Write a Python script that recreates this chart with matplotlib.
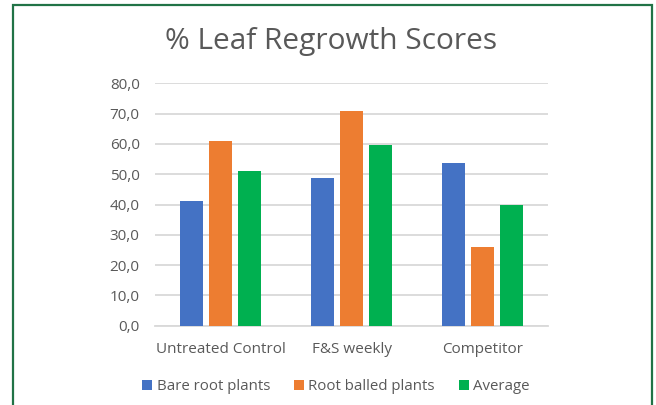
import matplotlib.pyplot as plt
import numpy as np
from matplotlib.patches import Rectangle

plt.rcParams['font.family'] = ['Open Sans', 'DejaVu Sans']

# datos del gráfico
categorias = ["Untreated Control", "F&S weekly", "Competitor"]
series = ["Bare root plants", "Root balled plants", "Average"]
bare_root = [41.0, 48.6, 53.6]
root_balled = [61.0, 70.9, 26.1]
average = [51.2, 59.6, 39.9]
colores = ["#4472C4", "#ED7D31", "#00B050"]
gris = "#595959"

fig = plt.figure(figsize=(6.56, 4.05), dpi=100)
ax = fig.add_axes([155 / 656, 1 - 325.7 / 405, 393 / 656, 242.4 / 405])

x = np.arange(len(categorias))
ancho = 0.176
paso = 0.221
for i, (nombre, valores) in enumerate(zip(series, [bare_root, root_balled, average])):
    ax.bar(x + (i - 1) * paso, valores, ancho, color=colores[i], label=nombre, zorder=3)

ax.set_xlim(-0.5, 2.5)
ax.set_ylim(0, 80)
ax.set_yticks(range(0, 81, 10))
ax.set_yticklabels([f"{v},0" for v in range(0, 81, 10)])
ax.set_xticks(x)
ax.set_xticklabels(categorias)
ax.tick_params(axis='both', length=0, colors=gris, labelsize=11)
ax.tick_params(axis='y', pad=11)
ax.tick_params(axis='x', pad=12)
ax.grid(axis='y', color="#d9d9d9", linewidth=1.3, zorder=0)
for lado in ["top", "right", "left"]:
    ax.spines[lado].set_visible(False)
ax.spines["bottom"].set_color("#d9d9d9")
ax.spines["bottom"].set_linewidth(1.3)

fig.text(331 / 656, 1 - 42 / 405, "% Leaf Regrowth Scores", ha="center", va="center",
         fontsize=21.5, color=gris)

fig.legend(loc="center", bbox_to_anchor=(336 / 656, 1 - 387 / 405), ncol=3, frameon=False,
           fontsize=10.8, labelcolor=gris, handlelength=0.65, handleheight=0.65,
           handletextpad=0.3, columnspacing=1.6)

# borde verde
fig.patches.append(Rectangle((12.5 / 656, -0.05), 639 / 656, 1.05 - 5.5 / 405,
                             transform=fig.transFigure, fill=False,
                             edgecolor="#217346", linewidth=1.6))

fig.savefig("out.png", dpi=100)
